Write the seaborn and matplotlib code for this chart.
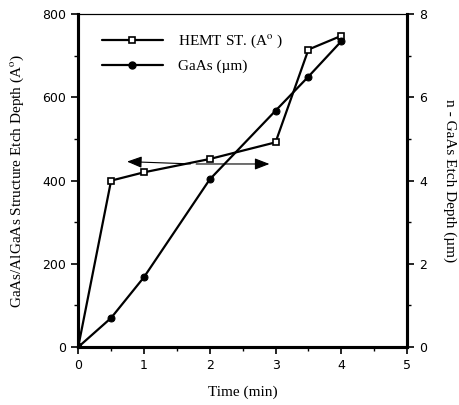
import matplotlib
matplotlib.use("Agg")
import matplotlib.pyplot as plt
import seaborn as sns
import pandas as pd
from matplotlib.ticker import MultipleLocator
from matplotlib.lines import Line2D

time_hemt = [0, 0.5, 1, 2, 3, 3.5, 4]
depth_hemt = [0, 400, 420, 452, 492, 715, 748]
time_gaas = [0, 0.5, 1, 2, 3, 3.5, 4]
depth_gaas = [0, 0.70, 1.68, 4.03, 5.68, 6.50, 7.35]

sns.set_style("ticks")
plt.rcParams['font.family'] = ['Liberation Serif', 'DejaVu Serif']
plt.rcParams['mathtext.fontset'] = 'stix'
for k in ['text.color', 'axes.labelcolor', 'xtick.color', 'ytick.color', 'axes.edgecolor']:
    plt.rcParams[k] = 'black'

fig = plt.figure(figsize=(4.6, 4.05), dpi=100)
ax = fig.add_axes([0.17, 0.143, 0.715, 0.822])
ax2 = ax.twinx()

df1 = pd.DataFrame({"t": time_hemt, "d": depth_hemt})
df2 = pd.DataFrame({"t": time_gaas, "d": depth_gaas})

sns.lineplot(data=df1, x="t", y="d", ax=ax, color="black", lw=1.6,
             marker="s", markersize=5, markerfacecolor="white",
             markeredgecolor="black", markeredgewidth=1.2, zorder=3)
sns.lineplot(data=df2, x="t", y="d", ax=ax2, color="black", lw=1.6,
             marker="o", markersize=5, markerfacecolor="black",
             markeredgecolor="black", zorder=3)

ax.set_xlim(0, 5)
ax.set_ylim(0, 800)
ax2.set_ylim(0, 8)
ax.xaxis.set_major_locator(MultipleLocator(1))
ax.xaxis.set_minor_locator(MultipleLocator(0.5))
ax.yaxis.set_major_locator(MultipleLocator(200))
ax.yaxis.set_minor_locator(MultipleLocator(100))
ax2.yaxis.set_major_locator(MultipleLocator(2))
ax2.yaxis.set_minor_locator(MultipleLocator(1))

for a in (ax, ax2):
    a.tick_params(which='major', direction='out', length=5, width=1.2, colors='black')
    a.tick_params(which='minor', direction='out', length=3, width=1, colors='black')
    for lab in a.get_xticklabels() + a.get_yticklabels():
        lab.set_fontfamily('DejaVu Sans')
        lab.set_fontsize(9)

for a in (ax, ax2):
    for s in ['left', 'bottom', 'right']:
        a.spines[s].set_linewidth(2.2)
        a.spines[s].set_color('black')
        a.spines[s].set_visible(True)
    a.spines['top'].set_linewidth(0.8)
    a.spines['top'].set_color('black')
    a.spines['top'].set_visible(True)

ax.set_xlabel("Time (min)", fontsize=11, labelpad=10)
ax.set_ylabel("GaAs/AlGaAs Structure Etch Depth (A$^{\\mathrm{o}}$)", fontsize=11, labelpad=12)
ax2.set_ylabel("n - GaAs Etch Depth (µm)", fontsize=11, rotation=270, labelpad=21)

# double-headed arrow indicating axes
ax.annotate("", xy=(0.7, 446), xytext=(1.75, 440),
            arrowprops=dict(arrowstyle="-|>,head_length=0.9,head_width=0.35", color="black", lw=0.8))
ax.annotate("", xy=(2.95, 440), xytext=(1.75, 440),
            arrowprops=dict(arrowstyle="-|>,head_length=0.9,head_width=0.35", color="black", lw=0.8))

h1 = Line2D([], [], color='black', lw=1.6, marker='s', markersize=5,
            markerfacecolor='white', markeredgecolor='black', markeredgewidth=1.2)
h2 = Line2D([], [], color='black', lw=1.6, marker='o', markersize=5,
            markerfacecolor='black')
if ax.get_legend():
    ax.get_legend().remove()
if ax2.get_legend():
    ax2.get_legend().remove()
ax2.legend([h1, h2], ["HEMT ST. (A$^{\\mathrm{o}}$ )", "GaAs (µm)"],
           loc='upper left', bbox_to_anchor=(0.03, 0.985), frameon=False,
           handlelength=4.0, handletextpad=1.0, fontsize=11, labelspacing=0.6)

fig.savefig("out.png", dpi=100)
